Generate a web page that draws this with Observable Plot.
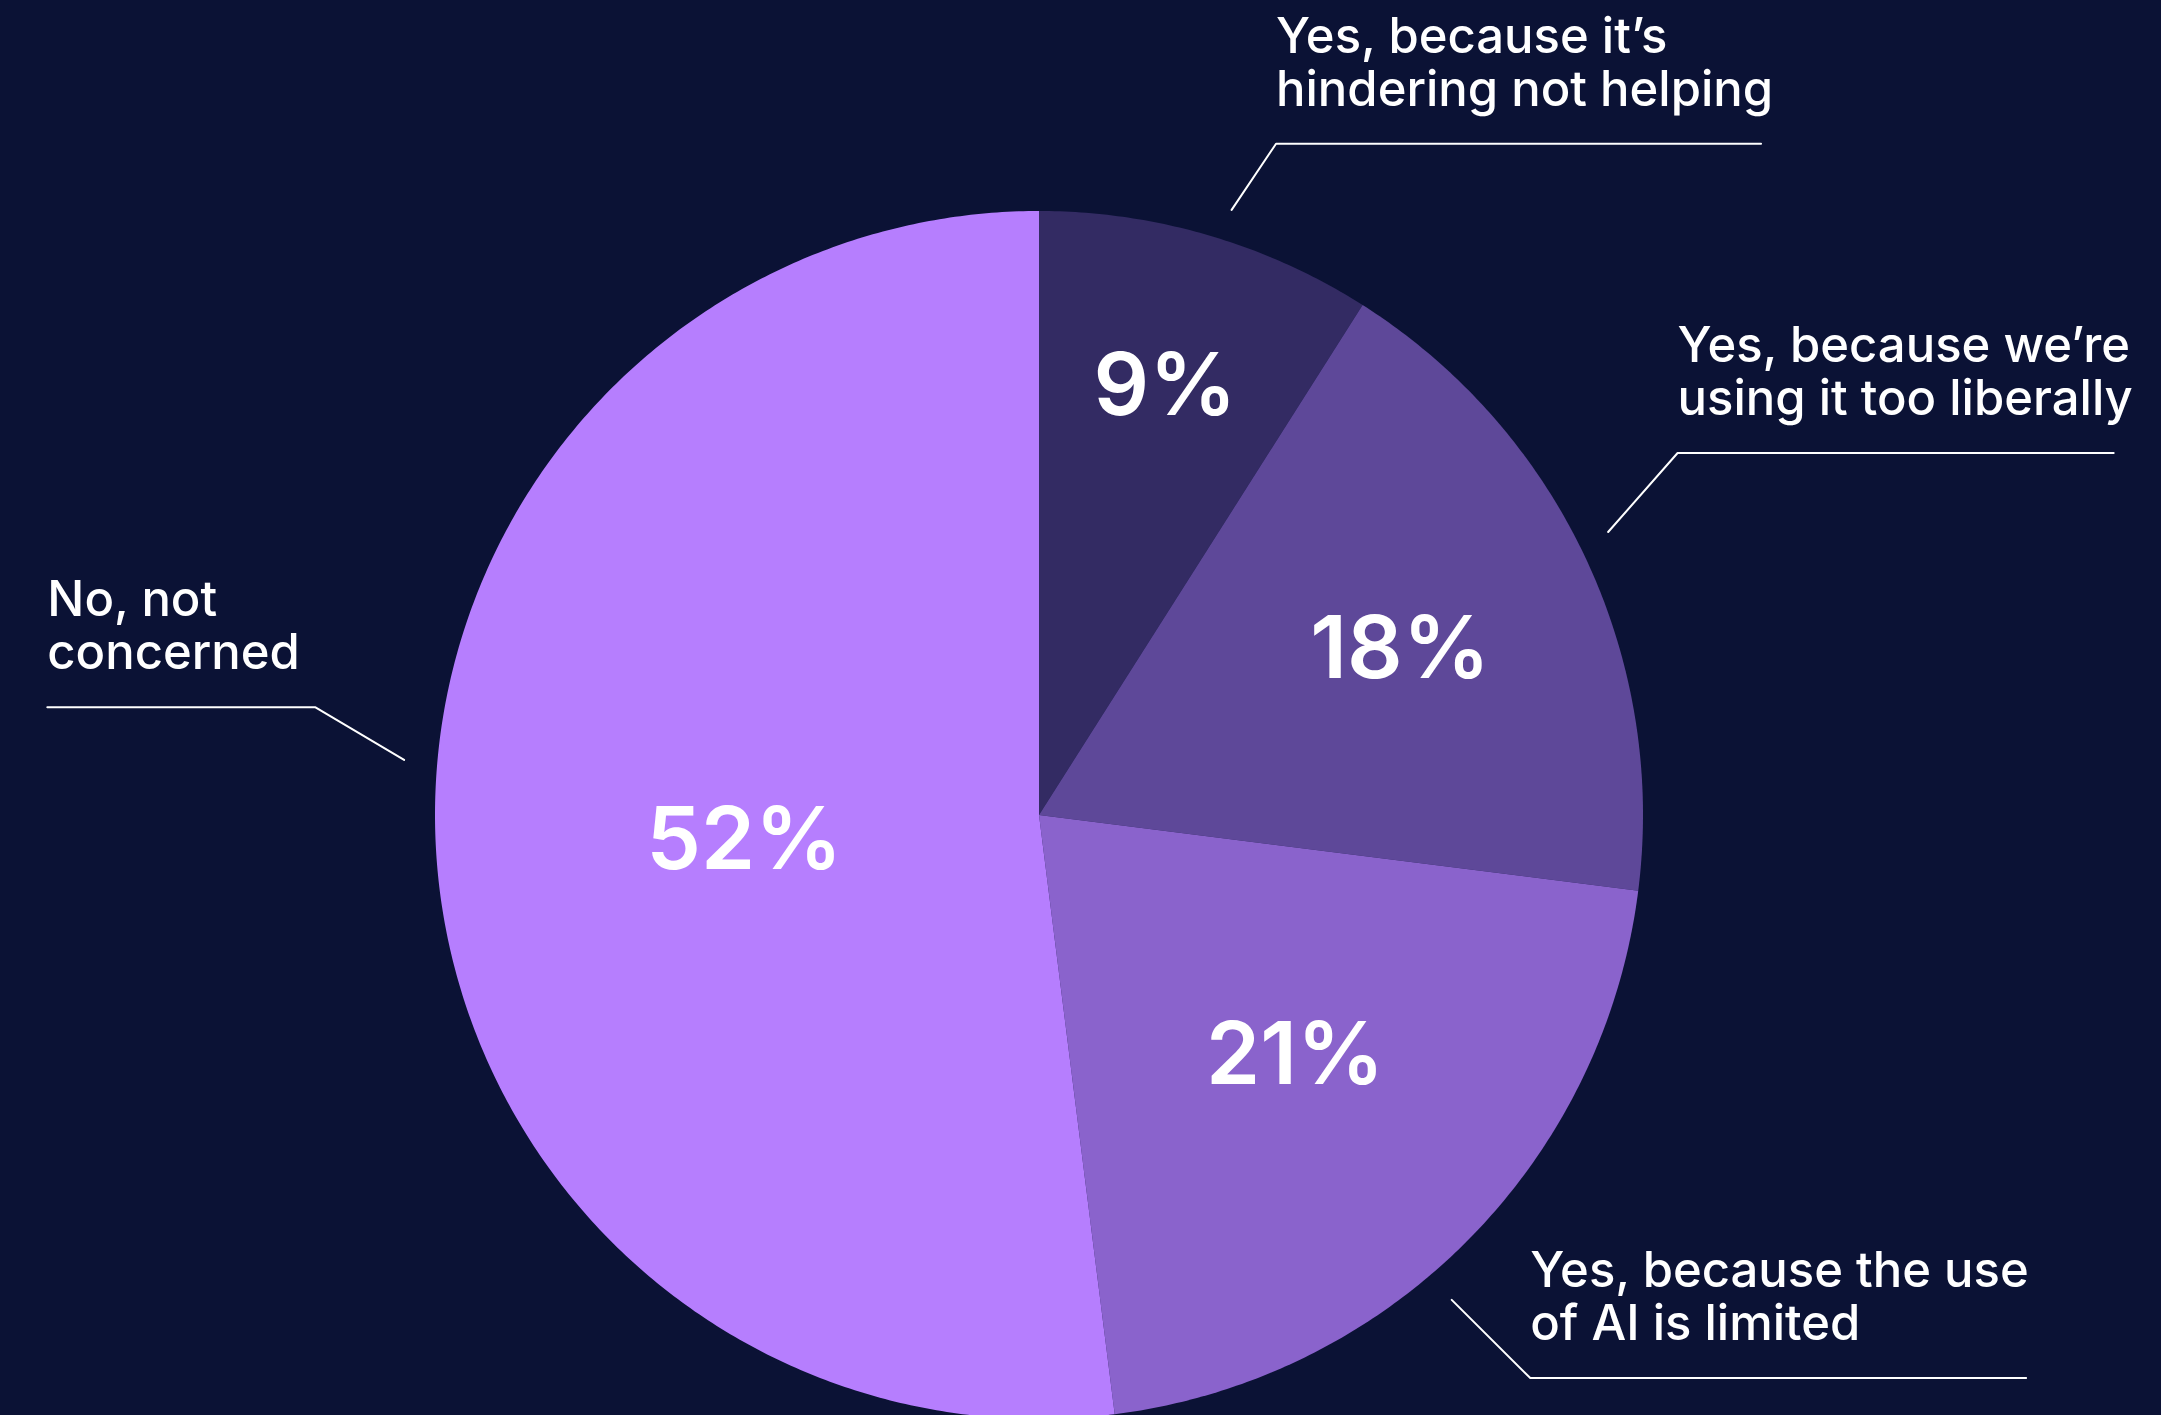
<!DOCTYPE html>
<html>
<head>
<meta charset="utf-8">
<script src="https://cdn.jsdelivr.net/npm/d3@7"></script>
<script src="https://cdn.jsdelivr.net/npm/@observablehq/plot@0.6"></script>
<style>
  html, body { margin: 0; padding: 0; background: #0b1235; overflow: hidden; }
  #chart svg { display: block; }
</style>
</head>
<body>
<div id="chart"></div>
<script>
// Survey answers, clockwise from twelve o'clock
const categories = [
  "Yes, because it’s hindering not helping",
  "Yes, because we’re using it too liberally",
  "Yes, because the use of AI is limited",
  "No, not concerned"
];
const labelText = [
  "Yes, because it’s\nhindering not helping",
  "Yes, because we’re\nusing it too liberally",
  "Yes, because the use\nof AI is limited",
  "No, not\nconcerned"
];
const shares = [9, 18, 21, 52];
const valueLabels = ["9%", "18%", "21%", "52%"];

// Styling
const sliceColors = ["#332b63", "#5e4899", "#8a63cc", "#b67efe"];
const background = "#0b1235";

// Layout: canvas, pie centre and radius in pixels
const W = 2161, H = 1415;
const cx = 1039, cy = 815, R = 604;

// Percentage label placement: radius (fraction of pie radius) and
// angular nudge (degrees) from each wedge's mid angle
const valueRadius = [0.745, 0.66, 0.577, 0.49];
const valueNudge = [0, 0, -2.2, -0.6];

// Callout geometry: angles in degrees clockwise from the top,
// radii as fractions of the pie radius, run = horizontal rule length
const callouts = [
  {a0: 17.6, r0: 1.052, a1: 19.4, r1: 1.179, run: 0.803, side: 1},
  {a0: 63.5, r0: 1.052, a1: 60.4, r1: 1.215, run: 0.722, side: 1},
  {a0: 139.6, r0: 1.053, a1: 138.9, r1: 1.236, run: 0.821, side: 1},
  {a0: 275.0, r0: 1.056, a1: 278.5, r1: 1.212, run: 0.444, side: -1}
];

const rad = (deg) => (deg * Math.PI) / 180;
const polar = (angleRad, r) => [r * Math.sin(angleRad), r * Math.cos(angleRad)];

// Wedge outlines: arc points (x1, y1) closed onto the centre (x2, y2)
const total = d3.sum(shares);
const wedges = [];
const mids = [];
let acc = 0;
shares.forEach((v, i) => {
  const a0 = (acc / total) * 2 * Math.PI;
  const a1 = ((acc + v) / total) * 2 * Math.PI;
  mids.push((a0 + a1) / 2);
  const steps = Math.max(8, Math.ceil((a1 - a0) / rad(0.5)));
  for (let k = 0; k <= steps; k++) {
    const a = a0 + ((a1 - a0) * k) / steps;
    const [x, y] = polar(a, 1);
    wedges.push({category: categories[i], k, x1: x, y1: y, x2: 0, y2: 0});
  }
  acc += v;
});

// Percentage labels near each wedge's mid angle
const valueRows = shares.map((v, i) => {
  const [x, y] = polar(mids[i] + rad(valueNudge[i]), valueRadius[i]);
  return {x, y, text: valueLabels[i]};
});

// Leader lines and category labels
const leaderRows = [];
const labelRows = [];
callouts.forEach((c, i) => {
  const [xs, ys] = polar(rad(c.a0), c.r0);
  const [xe, ye] = polar(rad(c.a1), c.r1);
  const xt = xe + c.side * c.run;
  leaderRows.push({id: i, x: xs, y: ys}, {id: i, x: xe, y: ye}, {id: i, x: xt, y: ye});
  labelRows.push({x: Math.min(xe, xt), y: ye, text: labelText[i]});
});

const chart = Plot.plot({
  width: W,
  height: H,
  margin: 0,
  style: {background, fontFamily: "Inter, 'Noto Sans', sans-serif"},
  x: {type: "linear", domain: [-cx / R, (W - cx) / R], range: [0, W], axis: null},
  y: {type: "linear", domain: [cy / R, -(H - cy) / R], range: [0, H], axis: null},
  color: {domain: categories, range: sliceColors},
  marks: [
    Plot.area(wedges, {
      x1: "x1", y1: "y1", x2: "x2", y2: "y2",
      z: "category", fill: "category", curve: "linear"
    }),
    Plot.line(leaderRows, {x: "x", y: "y", z: "id", stroke: "#ffffff", strokeWidth: 2, curve: "linear"}),
    Plot.text(labelRows, {
      x: "x", y: "y", text: "text",
      fill: "#ffffff", fontSize: 49, fontWeight: 500,
      textAnchor: "start", lineAnchor: "bottom", lineHeight: 1.08, dy: -38
    }),
    Plot.text(valueRows, {
      x: "x", y: "y", text: "text",
      fill: "#ffffff", fontSize: 87, fontWeight: 600,
      textAnchor: "middle", lineAnchor: "middle", dy: 4
    })
  ]
});

document.getElementById("chart").appendChild(chart);
</script>
</body>
</html>
